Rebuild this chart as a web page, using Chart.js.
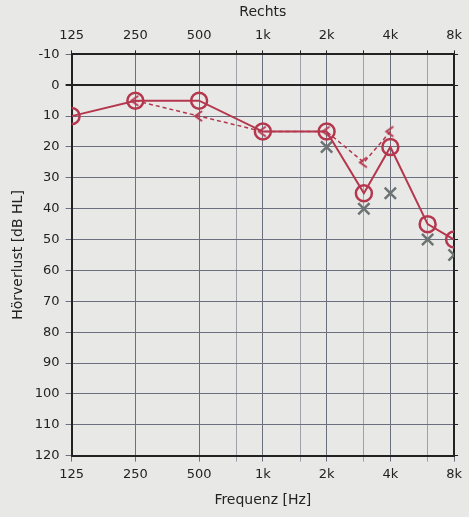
<!DOCTYPE html>
<html>
<head>
<meta charset="utf-8">
<script src="https://cdn.jsdelivr.net/npm/chart.js@4/dist/chart.umd.min.js"></script>
<style>
  html, body { margin: 0; padding: 0; background: #e8e9e7; }
  #wrap { width: 469px; height: 517px; }
</style>
</head>
<body>
<div id="wrap"><canvas id="audio" width="469" height="517"></canvas></div>
<script>
// Audiogram, right ear
const gridFreqs = [125, 250, 500, 750, 1000, 1500, 2000, 3000, 4000, 6000, 8000];
const octaveLabels = ['125', '250', '500', '1k', '2k', '4k', '8k'];
const dbTicks = [-10, 0, 10, 20, 30, 40, 50, 60, 70, 80, 90, 100, 110, 120];

const airFreqs = [125, 250, 500, 1000, 2000, 3000, 4000, 6000, 8000];
const airRight = [10, 5, 5, 15, 15, 35, 20, 45, 50];

const boneFreqs = [250, 500, 1000, 2000, 3000, 4000];
const boneRight = [5, 10, 15, 15, 25, 15];

const crossFreqs = [2000, 3000, 4000, 6000, 8000];
const crossValues = [20, 40, 35, 50, 55];

const RED = '#b5374e';
const GRID = '#6b6f80';

function oct(f) { return Math.log2(f / 125); }
function toPoints(freqs, vals) { return freqs.map((f, i) => ({ x: oct(f), y: vals[i] })); }
function isOctave(v) { return Math.abs(v - Math.round(v)) < 0.001; }

// "<" marker for bone conduction
function makeBracket() {
    const c = document.createElement('canvas');
    c.width = 14; c.height = 14;
    const g = c.getContext('2d');
    g.strokeStyle = RED;
    g.lineWidth = 2;
    g.beginPath();
    g.moveTo(10, 2);
    g.lineTo(3, 7);
    g.lineTo(10, 12);
    g.stroke();
    return c;
}

const tickFont = { family: 'DejaVu Sans', size: 13 };
const titleFont = { family: 'DejaVu Sans', size: 14 };

new Chart(document.getElementById('audio'), {
    type: 'line',
    data: {
        datasets: [
            {
                label: 'Luft rechts',
                data: toPoints(airFreqs, airRight),
                borderColor: RED,
                borderWidth: 2,
                pointStyle: 'circle',
                pointRadius: 8,
                pointBorderWidth: 2.5,
                pointBorderColor: RED,
                pointBackgroundColor: 'rgba(0,0,0,0)',
                tension: 0
            },
            {
                label: 'Knochen rechts',
                data: toPoints(boneFreqs, boneRight),
                borderColor: RED,
                borderWidth: 1.5,
                borderDash: [4, 3],
                pointStyle: makeBracket(),
                pointRadius: 7,
                tension: 0
            },
            {
                label: 'X',
                data: toPoints(crossFreqs, crossValues),
                showLine: false,
                pointStyle: 'crossRot',
                pointRadius: 8,
                pointBorderWidth: 2.5,
                pointBorderColor: '#6d7372'
            }
        ]
    },
    options: {
        responsive: false,
        animation: false,
        layout: { padding: { left: 6, right: 6, top: 4, bottom: 4 } },
        plugins: {
            legend: { display: false },
            tooltip: { enabled: false }
        },
        scales: {
            x: {
                type: 'linear',
                position: 'bottom',
                min: 0,
                max: 6,
                afterBuildTicks: s => { s.ticks = gridFreqs.map(f => ({ value: oct(f) })); },
                ticks: {
                    autoSkip: false,
                    maxRotation: 0,
                    padding: 5,
                    color: '#222',
                    font: tickFont,
                    callback: v => isOctave(v) ? octaveLabels[Math.round(v)] : ''
                },
                grid: {
                    color: c => isOctave(c.tick.value) ? GRID : '#8a8e9a',
                    lineWidth: c => isOctave(c.tick.value) ? 1 : 0.8,
                    tickLength: 6
                },
                border: { color: '#222', width: 2 },
                title: { display: true, text: 'Frequenz [Hz]', color: '#222', font: titleFont, padding: { top: 5 } }
            },
            x2: {
                type: 'linear',
                position: 'top',
                min: 0,
                max: 6,
                afterBuildTicks: s => { s.ticks = gridFreqs.map(f => ({ value: oct(f) })); },
                ticks: {
                    autoSkip: false,
                    maxRotation: 0,
                    padding: 7,
                    color: '#222',
                    font: tickFont,
                    callback: v => isOctave(v) ? octaveLabels[Math.round(v)] : ''
                },
                grid: { drawOnChartArea: false, color: '#222', tickLength: 4 },
                border: { color: '#222', width: 2 },
                title: { display: true, text: 'Rechts', color: '#222', font: titleFont, padding: { top: 0, bottom: 0 } }
            },
            y: {
                reverse: true,
                min: -10,
                max: 120,
                afterBuildTicks: s => { s.ticks = dbTicks.map(v => ({ value: v })); },
                ticks: { color: '#222', font: tickFont, padding: 6 },
                grid: {
                    color: c => c.tick.value === 0 ? '#222' : GRID,
                    lineWidth: c => c.tick.value === 0 ? 2 : 1,
                    tickLength: 6
                },
                border: { color: '#222', width: 2 },
                title: { display: true, text: 'Hörverlust [dB HL]', color: '#222', font: titleFont, padding: { bottom: 2 } }
            },
            y2: {
                position: 'right',
                reverse: true,
                min: -10,
                max: 120,
                afterBuildTicks: s => { s.ticks = dbTicks.map(v => ({ value: v })); },
                ticks: { display: false },
                grid: { drawOnChartArea: false, color: '#222', tickLength: 4 },
                border: { color: '#222', width: 2 }
            }
        }
    }
});
</script>
</body>
</html>
